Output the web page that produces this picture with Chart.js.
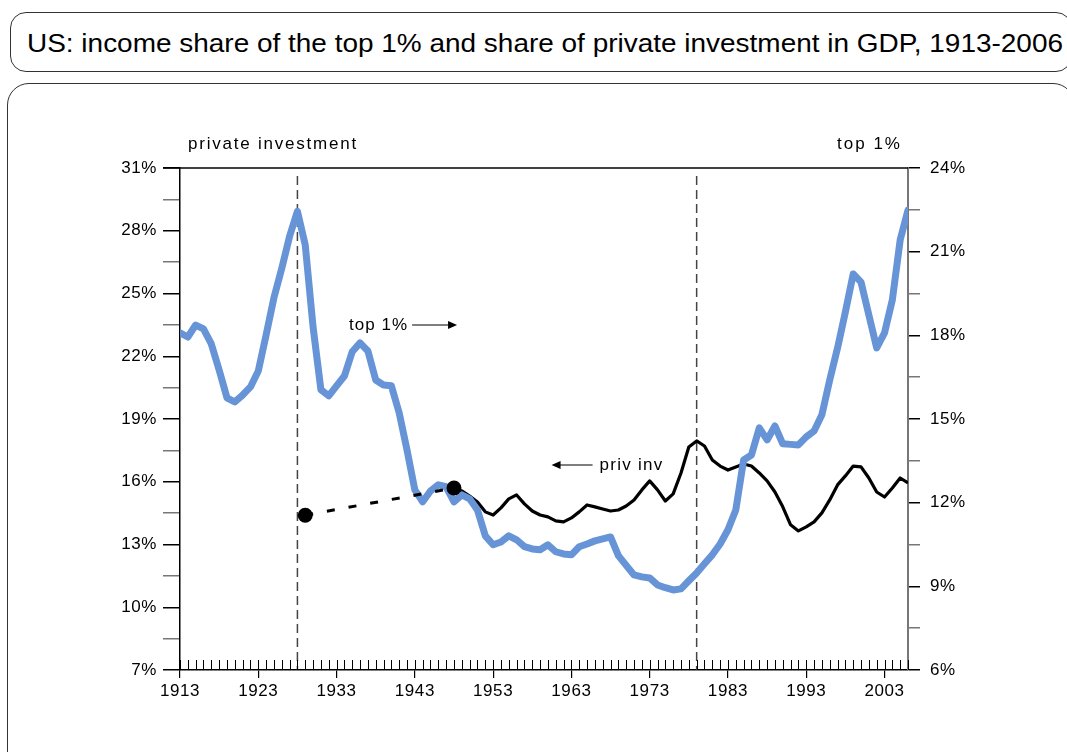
<!DOCTYPE html>
<html>
<head>
<meta charset="utf-8">
<script src="https://cdn.jsdelivr.net/npm/chart.js@4.4.0/dist/chart.umd.min.js"></script>
<style>
  body { margin: 0; background: #fff; overflow: hidden; width: 1067px; height: 752px; position: relative; }
  #titleBox {
    position: absolute; left: 10px; top: 12px; width: 1062px; height: 60px;
    border: 1px solid #333; border-radius: 16px; box-sizing: border-box;
  }
  #title {
    position: absolute; left: 16px; top: 0; line-height: 60px; white-space: nowrap;
    font-family: "Liberation Sans", Arial, sans-serif; font-size: 26px; color: #000;
    transform-origin: 0 50%;
  }
  #chartBox {
    position: absolute; left: 7px; top: 83px; width: 1068px; height: 700px;
    border: 1px solid #333; border-radius: 22px; box-sizing: border-box;
  }
  #chart { position: absolute; left: 0; top: 0; }
</style>
</head>
<body>
<div id="titleBox"><div id="title">US: income share of the top 1% and share of private investment in GDP, 1913-2006</div></div>
<div id="chartBox"></div>
<canvas id="chart" width="1067" height="752"></canvas>
<script>
// years for the top 1% series
const years = [
  1913, 1914, 1915, 1916, 1917, 1918, 1919, 1920, 1921, 1922,
  1923, 1924, 1925, 1926, 1927, 1928, 1929, 1930, 1931, 1932,
  1933, 1934, 1935, 1936, 1937, 1938, 1939, 1940, 1941, 1942,
  1943, 1944, 1945, 1946, 1947, 1948, 1949, 1950, 1951, 1952,
  1953, 1954, 1955, 1956, 1957, 1958, 1959, 1960, 1961, 1962,
  1963, 1964, 1965, 1966, 1967, 1968, 1969, 1970, 1971, 1972,
  1973, 1974, 1975, 1976, 1977, 1978, 1979, 1980, 1981, 1982,
  1983, 1984, 1985, 1986, 1987, 1988, 1989, 1990, 1991, 1992,
  1993, 1994, 1995, 1996, 1997, 1998, 1999, 2000, 2001, 2002,
  2003, 2004, 2005, 2006
];
// income share of the top 1% (right axis, %)
const top1Share = [
  18.09, 17.94, 18.37, 18.23, 17.69, 16.76, 15.76, 15.61, 15.86, 16.15,
  16.72, 18.01, 19.35, 20.40, 21.55, 22.45, 21.24, 18.30, 16.05, 15.83,
  16.19, 16.54, 17.41, 17.73, 17.44, 16.40, 16.22, 16.19, 15.22, 13.89,
  12.46, 12.03, 12.42, 12.64, 12.57, 12.03, 12.28, 12.14, 11.74, 10.81,
  10.49, 10.59, 10.81, 10.67, 10.42, 10.34, 10.31, 10.49, 10.24, 10.16,
  10.13, 10.42, 10.52, 10.63, 10.70, 10.77, 10.10, 9.75, 9.41, 9.34,
  9.30, 9.05, 8.95, 8.87, 8.91, 9.20, 9.48, 9.81, 10.13, 10.52,
  11.03, 11.74, 13.53, 13.71, 14.68, 14.25, 14.75, 14.11, 14.09, 14.07,
  14.36, 14.57, 15.15, 16.40, 17.55, 18.84, 20.20, 19.91, 18.73, 17.55,
  18.09, 19.27, 21.42, 22.49
];

// private investment share of GDP (left axis, %)
const invYears = [
  1948, 1949, 1950, 1951, 1952, 1953, 1954, 1955, 1956, 1957,
  1958, 1959, 1960, 1961, 1962, 1963, 1964, 1965, 1966, 1967,
  1968, 1969, 1970, 1971, 1972, 1973, 1974, 1975, 1976, 1977,
  1978, 1979, 1980, 1981, 1982, 1983, 1984, 1985, 1986, 1987,
  1988, 1989, 1990, 1991, 1992, 1993, 1994, 1995, 1996, 1997,
  1998, 1999, 2000, 2001, 2002, 2003, 2004, 2005, 2006
];
const privInvest = [
  15.70, 15.56, 15.32, 15.03, 14.56, 14.41, 14.75, 15.18, 15.37, 14.94,
  14.60, 14.41, 14.32, 14.13, 14.08, 14.27, 14.56, 14.89, 14.80, 14.70,
  14.60, 14.65, 14.84, 15.13, 15.61, 16.04, 15.61, 15.08, 15.42, 16.42,
  17.66, 17.95, 17.71, 17.04, 16.75, 16.56, 16.71, 16.85, 16.75, 16.42,
  16.04, 15.51, 14.80, 13.94, 13.65, 13.84, 14.08, 14.51, 15.13, 15.85,
  16.28, 16.75, 16.71, 16.18, 15.51, 15.27, 15.70, 16.18, 15.94
];
// the two isolated observations joined by a dashed line
const gapYears = [1929, 1948];
const gapInvest = [14.4, 15.7];

const decadeLabels = [1913, 1923, 1933, 1943, 1953, 1963, 1973, 1983, 1993, 2003];
const markerYears = [1928, 1979];

const zip = (xs, ys) => xs.map((x, i) => ({ x: x, y: ys[i] }));

// fit title text to the width used in the reference
const titleEl = document.getElementById("title");
const tw = titleEl.getBoundingClientRect().width;
titleEl.style.transform = "scaleX(" + (1036 / tw) + ")";

Chart.defaults.font.family = '"Liberation Sans", Arial, sans-serif';
Chart.defaults.color = "#000";

const FONT = { size: 17 };

// draw text stretched by letter spacing to a given width
function spacedText(ctx, text, x, y, width, align) {
  ctx.letterSpacing = "0px";
  const w = ctx.measureText(text).width;
  const sp = (width - w) / text.length;
  ctx.letterSpacing = sp.toFixed(2) + "px";
  ctx.textAlign = "left";
  ctx.fillText(text, align === "right" ? x - width : x, y);
  ctx.letterSpacing = "0px";
}

function arrow(ctx, x1, x2, y) {
  const dir = x2 > x1 ? 1 : -1;
  ctx.beginPath();
  ctx.moveTo(x1, y);
  ctx.lineTo(x2 - dir * 6, y);
  ctx.stroke();
  ctx.beginPath();
  ctx.moveTo(x2, y);
  ctx.lineTo(x2 - dir * 9, y - 4);
  ctx.lineTo(x2 - dir * 9, y + 4);
  ctx.closePath();
  ctx.fill();
}

const extras = {
  id: "extras",
  beforeDraw(chart) {
    chart.ctx.letterSpacing = "0.6px";
  },
  beforeDatasetsDraw(chart) {
    const { ctx, chartArea: a, scales } = chart;
    ctx.save();
    ctx.strokeStyle = "#444";
    ctx.lineWidth = 1.5;
    ctx.setLineDash([9, 5]);
    markerYears.forEach(yr => {
      const x = scales.x.getPixelForValue(yr);
      ctx.beginPath();
      ctx.moveTo(x, a.top + 8);
      ctx.lineTo(x, a.bottom);
      ctx.stroke();
    });
    ctx.restore();
  },
  afterDraw(chart) {
    const { ctx, chartArea: a, scales } = chart;
    ctx.save();
    // top frame line
    ctx.strokeStyle = "#000";
    ctx.lineWidth = 1.5;
    ctx.beginPath();
    ctx.moveTo(a.left - 17, a.top);
    ctx.lineTo(a.right, a.top);
    ctx.stroke();
    // small yearly ticks inside the plot
    ctx.lineWidth = 1;
    for (let yr = 1913; yr <= 2006; yr++) {
      const x = Math.round(scales.x.getPixelForValue(yr)) + 0.5;
      ctx.beginPath();
      ctx.moveTo(x, a.bottom - 10);
      ctx.lineTo(x, a.bottom);
      ctx.stroke();
    }
    // axis headings
    ctx.fillStyle = "#000";
    ctx.font = '17px "Liberation Sans", Arial, sans-serif';
    ctx.textBaseline = "middle";
    spacedText(ctx, "private investment", a.left + 8, a.top - 24, 170, "left");
    spacedText(ctx, "top 1%", a.right - 6, a.top - 24, 65, "right");

    // "top 1% ->" annotation
    ctx.lineWidth = 1.2;
    let tx = scales.x.getPixelForValue(1934.6);
    let ty = scales.y1.getPixelForValue(18.37);
    spacedText(ctx, "top 1%", tx, ty, 59, "left");
    arrow(ctx, tx + 63, tx + 108, ty);

    // "<- priv inv" annotation
    tx = scales.x.getPixelForValue(1966.6);
    ty = scales.y.getPixelForValue(16.8);
    spacedText(ctx, "priv inv", tx, ty, 64, "left");
    arrow(ctx, tx - 7, tx - 48, ty);
    ctx.restore();
  }
};

const isMajor = (v, base) => Math.round((v - base) * 2) % 6 === 0;

new Chart(document.getElementById("chart"), {
  type: "line",
  data: {
    datasets: [
      {
        label: "gap",
        data: zip(gapYears, gapInvest),
        yAxisID: "y",
        borderColor: "#000",
        backgroundColor: "#000",
        borderWidth: 3,
        borderDash: [8, 14],
        pointRadius: 7.5,
        pointBackgroundColor: "#000",
        pointBorderWidth: 0,
        order: 0
      },
      {
        label: "top 1%",
        data: zip(years, top1Share),
        yAxisID: "y1",
        borderColor: "#6694d6",
        borderWidth: 7,
        borderJoinStyle: "round",
        borderCapStyle: "round",
        pointRadius: 0,
        tension: 0,
        order: 1
      },
      {
        label: "priv inv",
        data: zip(invYears, privInvest),
        yAxisID: "y",
        borderColor: "#000",
        borderWidth: 3.2,
        borderJoinStyle: "round",
        pointRadius: 0,
        tension: 0,
        order: 2
      }
    ]
  },
  options: {
    responsive: false,
    animation: false,
    layout: { padding: { top: 168, bottom: 42, left: 0, right: 0 } },
    plugins: { legend: { display: false }, tooltip: { enabled: false } },
    scales: {
      x: {
        type: "linear",
        min: 1913,
        max: 2006,
        afterFit: s => { s.height = 40; },
        ticks: {
          stepSize: 1,
          autoSkip: false,
          maxRotation: 0,
          padding: 3,
          font: FONT,
          callback: v => decadeLabels.includes(v) ? String(v) : ""
        },
        grid: {
          drawOnChartArea: false,
          tickLength: 8,
          lineWidth: 1.2,
          color: c => decadeLabels.includes(c.tick && c.tick.value) ? "#000" : "rgba(0,0,0,0)"
        },
        border: { color: "#000", width: 1.5 }
      },
      y: {
        position: "left",
        min: 7,
        max: 31,
        afterFit: s => { s.width = 180; },
        ticks: {
          stepSize: 1.5,
          padding: 6,
          font: FONT,
          callback: v => isMajor(v, 7) ? v + "%" : ""
        },
        grid: {
          drawOnChartArea: false,
          tickLength: 17,
          lineWidth: 1.5,
          color: c => isMajor(c.tick.value, 7) ? "#000" : "#777"
        },
        border: { color: "#000", width: 1.5 }
      },
      y1: {
        position: "right",
        min: 6,
        max: 24,
        afterFit: s => { s.width = 159; },
        ticks: {
          stepSize: 1.5,
          padding: 10,
          font: FONT,
          callback: v => isMajor(v, 6) ? v + "%" : ""
        },
        grid: {
          drawOnChartArea: false,
          tickLength: 12,
          lineWidth: 1.5,
          color: c => isMajor(c.tick.value, 6) ? "#000" : "#777"
        },
        border: { color: "#777", width: 2 }
      }
    }
  },
  plugins: [extras]
});
</script>
</body>
</html>
